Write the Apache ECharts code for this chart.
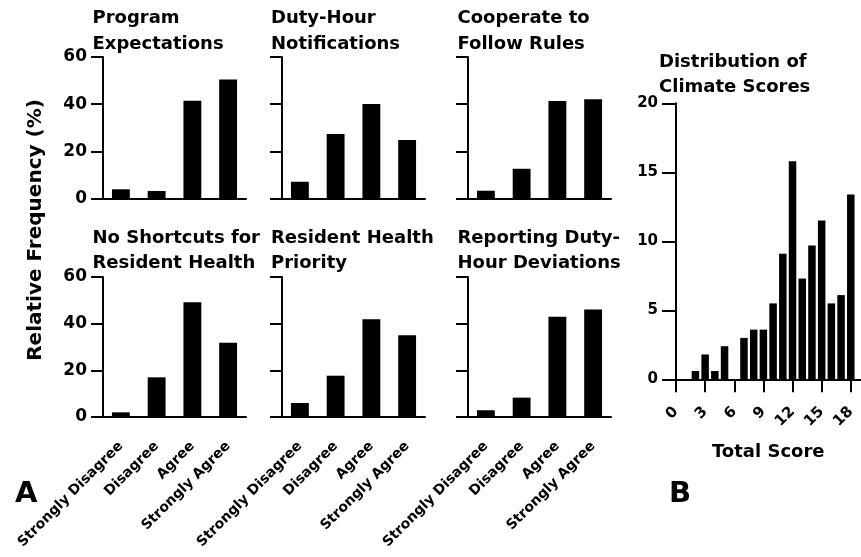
<!DOCTYPE html>
<html>
<head>
<meta charset="utf-8">
<title>Duty-hour climate</title>
<script src="https://cdn.jsdelivr.net/npm/echarts@6/dist/echarts.min.js"></script>
<style>
  html, body { margin: 0; padding: 0; background: #fff; }
  #chart { width: 861px; height: 557px; }
</style>
</head>
<body>
<div id="chart"></div>
<script>
// data
const categories = ['Strongly Disagree', 'Disagree', 'Agree', 'Strongly Agree'];
const panelTitles = [
  'Program\nExpectations',
  'Duty-Hour\nNotifications',
  'Cooperate to\nFollow Rules',
  'No Shortcuts for\nResident Health',
  'Resident Health\nPriority',
  'Reporting Duty-\nHour Deviations'
];
const programExpectations = [3.9, 3.2, 41.5, 50.5];
const dutyHourNotifications = [7.1, 27.4, 40.1, 24.8];
const cooperateRules = [3.3, 12.6, 41.3, 42.1];
const noShortcuts = [2.0, 17.0, 49.2, 31.8];
const healthPriority = [6.0, 17.7, 41.9, 35.0];
const reportingDeviations = [2.9, 8.3, 43.0, 46.1];
const freqTicks = [0, 20, 40, 60];

const totalScores = [0, 1, 2, 3, 4, 5, 6, 7, 8, 9, 10, 11, 12, 13, 14, 15, 16, 17, 18];
const scorePercent = [0, 0, 0.6, 1.8, 0.6, 2.4, 0, 3.0, 3.6, 3.6, 5.5, 9.1, 15.8, 7.3, 9.7, 11.5, 5.5, 6.1, 13.4];
const scoreTicks = [0, 3, 6, 9, 12, 15, 18];
const scorePctTicks = [0, 5, 10, 15, 20];

const FONT = 'DejaVu Sans';
const BLACK = '#000';

const panelValues = [
  programExpectations, dutyHourNotifications, cooperateRules,
  noShortcuts, healthPriority, reportingDeviations
];

// layout
const colLefts = [103, 282, 468];
const rowTops = [57, 277];
const rowHeights = [141.5, 140];
const titleLefts = [92.5, 271, 457.5];
const titleTops = [5.75, 225.5];

const lineStyle = { color: BLACK, width: 2 };
const textBase = { color: BLACK, fontFamily: FONT, fontWeight: 'bold' };

const grids = [];
const xAxes = [];
const yAxes = [];
const series = [];
const titles = [];

panelValues.forEach((values, i) => {
  const col = i % 3;
  const row = Math.floor(i / 3);
  grids.push({ left: colLefts[col], top: rowTops[row], width: 143, height: rowHeights[row] });
  xAxes.push({
    type: 'category',
    gridIndex: i,
    data: categories,
    axisLine: { lineStyle },
    axisTick: { alignWithLabel: true, length: 12, lineStyle },
    // only the bottom row carries the answer labels
    axisLabel: { ...textBase, show: row === 1, interval: 0, rotate: 45, margin: 27, fontSize: 14 }
  });
  yAxes.push({
    type: 'value',
    gridIndex: i,
    min: freqTicks[0],
    max: freqTicks[freqTicks.length - 1],
    interval: 20,
    splitLine: { show: false },
    axisLine: { show: true, lineStyle },
    axisTick: { show: true, length: 12, lineStyle },
    axisLabel: { ...textBase, show: col === 0, margin: 16, fontSize: 17 }
  });
  series.push({
    type: 'bar',
    xAxisIndex: i,
    yAxisIndex: i,
    data: values,
    barWidth: '50%',
    itemStyle: { color: BLACK },
    silent: true
  });
  titles.push({
    text: panelTitles[i],
    left: titleLefts[col],
    top: titleTops[row],
    padding: 0,
    textStyle: { ...textBase, fontSize: 18, lineHeight: 25.5 }
  });
});

// histogram (panel B)
grids.push({ left: 676, top: 103.3, width: 184.5, height: 276 });
xAxes.push({
  type: 'value',
  gridIndex: 6,
  min: 0,
  max: 19,
  name: 'Total Score',
  nameLocation: 'middle',
  nameGap: 64,
  nameTextStyle: { ...textBase, fontSize: 18 },
  splitLine: { show: false },
  axisLine: { lineStyle },
  axisTick: { customValues: scoreTicks, length: 13, lineStyle },
  axisLabel: { ...textBase, customValues: scoreTicks, rotate: 45, margin: 30, fontSize: 15 }
});
yAxes.push({
  type: 'value',
  gridIndex: 6,
  min: scorePctTicks[0],
  max: scorePctTicks[scorePctTicks.length - 1],
  interval: 5,
  splitLine: { show: false },
  axisLine: { show: true, lineStyle },
  axisTick: { show: true, length: 14, lineStyle },
  axisLabel: { ...textBase, margin: 18, fontSize: 15 }
});
series.push({
  type: 'bar',
  xAxisIndex: 6,
  yAxisIndex: 6,
  data: totalScores.map((s, k) => [s, scorePercent[k]]),
  barWidth: 7.5,
  itemStyle: { color: BLACK },
  silent: true
});
titles.push({
  text: 'Distribution of\nClimate Scores',
  left: 659,
  top: 50,
  padding: 0,
  textStyle: { ...textBase, fontSize: 18, lineHeight: 25 }
});

// shared y title, carried by an empty axis spanning both rows
grids.push({ left: 104, top: 50, width: 1, height: 360 });
xAxes.push({ type: 'value', gridIndex: 7, show: false });
yAxes.push({
  type: 'value',
  gridIndex: 7,
  name: 'Relative Frequency (%)',
  nameLocation: 'middle',
  nameGap: 58,
  nameTextStyle: { ...textBase, fontSize: 20 },
  axisLine: { show: false },
  axisTick: { show: false },
  axisLabel: { show: false },
  splitLine: { show: false }
});

// panel letters
titles.push({ text: 'A', left: 15, top: 479.5, padding: 0, textStyle: { ...textBase, fontSize: 29, lineHeight: 29 } });
titles.push({ text: 'B', left: 669, top: 479.5, padding: 0, textStyle: { ...textBase, fontSize: 29, lineHeight: 29 } });

const chart = echarts.init(document.getElementById('chart'));
chart.setOption({
  animation: false,
  backgroundColor: '#fff',
  title: titles,
  grid: grids,
  xAxis: xAxes,
  yAxis: yAxes,
  series
});
</script>
</body>
</html>
